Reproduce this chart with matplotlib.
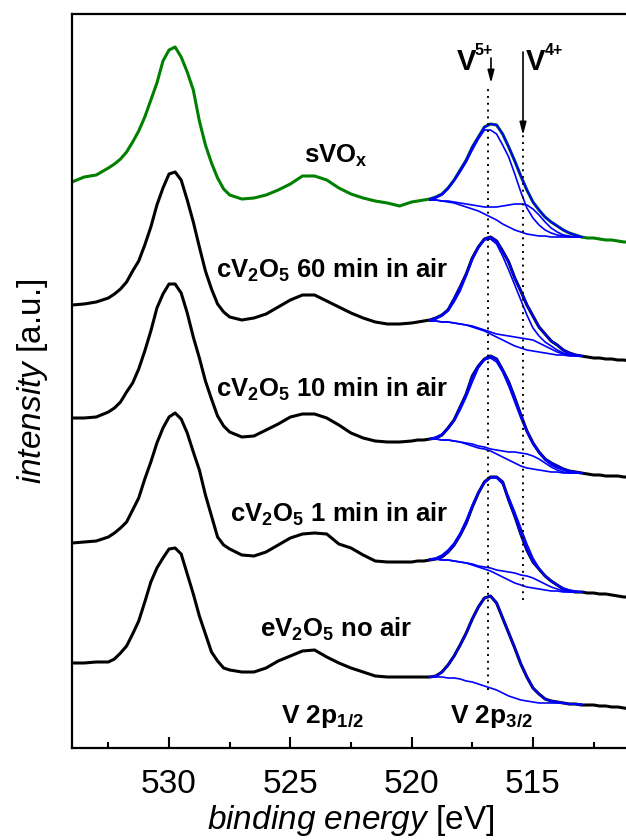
import numpy as np
import matplotlib
matplotlib.use("Agg")
import matplotlib.pyplot as plt
from matplotlib.ticker import MultipleLocator

plt.rcParams['font.family'] = 'Liberation Sans'
plt.rcParams['mathtext.fontset'] = 'custom'
plt.rcParams['mathtext.rm'] = 'Liberation Sans'
plt.rcParams['mathtext.it'] = 'Liberation Sans:italic'
plt.rcParams['mathtext.bf'] = 'Liberation Sans:bold'

# binding energy grid (eV): finer over O 1s and V 2p3/2, coarse elsewhere
energy = np.concatenate([np.linspace(534.0, 532.5, 4), np.linspace(532.25, 527.75, 19),
                         np.linspace(527.5, 520.5, 15), np.linspace(520.0, 511.0, 37)])
fit_energy = np.linspace(519.25, 513.0, 26)

# spectra, already stacked (a.u.)
svox = np.array([566, 571, 573, 580,
                 584, 589, 596, 606, 617, 631, 648, 665, 687, 698, 701, 691, 676, 658, 627, 603, 585, 570, 559,
                 553, 549, 550, 553, 558, 564, 572, 572, 568, 560, 554, 550, 547, 545, 542,
                 546, 547, 548, 549, 551, 554, 560, 568, 578, 588, 601, 611, 621, 624, 623, 614, 601, 587, 572, 558,
                 546, 538, 531, 526, 522, 518, 515, 513, 511, 510, 510, 509, 508, 508, 507, 506, 506])
c60 = np.array([443, 444, 446, 450,
                454, 459, 466, 477, 487, 503, 521, 543, 560, 574, 576, 568, 548, 526, 501, 477, 459, 444, 436,
                431, 428, 430, 434, 441, 448, 453, 453, 447, 441, 435, 430, 426, 424, 424,
                425, 426, 427, 428, 430, 433, 438, 449, 461, 474, 490, 501, 509, 511, 507, 497, 486, 470, 457, 443,
                432, 421, 414, 407, 403, 398, 395, 393, 392, 391, 390, 390, 389, 389, 388, 388, 387])
c10 = np.array([330, 330, 331, 336,
                340, 346, 356, 365, 379, 397, 417, 440, 454, 464, 464, 455, 435, 411, 390, 367, 349, 332, 322,
                316, 311, 312, 318, 324, 331, 334, 334, 330, 323, 315, 310, 307, 306, 306,
                307, 308, 308, 309, 310, 313, 320, 328, 341, 354, 372, 382, 389, 392, 389, 378, 366, 350, 333, 317,
                305, 296, 289, 285, 282, 279, 277, 276, 275, 274, 273, 273, 272, 272, 272, 271, 271])
c1 = np.array([205, 206, 207, 211,
               215, 220, 226, 238, 250, 269, 286, 305, 320, 331, 335, 329, 315, 296, 278, 253, 232, 211, 203,
               199, 193, 192, 196, 203, 210, 214, 215, 214, 204, 200, 193, 187, 186, 186,
               186, 187, 187, 188, 189, 191, 196, 203, 213, 225, 241, 255, 266, 271, 271, 266, 248, 232, 214, 198,
               186, 179, 172, 167, 163, 159, 157, 156, 156, 155, 155, 154, 154, 153, 152, 151, 151])
noair = np.array([85, 85, 86, 86,
                  89, 95, 102, 114, 127, 146, 166, 180, 190, 199, 200, 194, 174, 154, 132, 114, 96, 87, 80,
                  78, 76, 76, 80, 87, 92, 97, 98, 91, 85, 80, 76, 72, 71, 71,
                  71, 71, 71, 71, 72, 76, 83, 92, 103, 115, 129, 141, 150, 152, 145, 130, 115, 100, 84, 71,
                  60, 54, 49, 47, 46, 45, 44, 44, 43, 43, 43, 42, 42, 41, 41, 40, 39])

# V 2p3/2 fit components (background, V5+ + bg, V4+ + bg)
svox_bg = [548, 548, 547, 546, 545, 543, 541, 539, 537, 534, 531, 528, 524, 521, 518, 516, 514, 513, 512, 512,
           511, 511, 511, 511, 511, 511]
svox_v5 = [548, 550, 553, 559, 567, 576, 586, 598, 609, 618, 618, 614, 603, 591, 574, 556, 540, 530, 523, 518,
           515, 513, 512, 511, 511, 511]
svox_v4 = [548, 548, 547, 547, 546, 545, 544, 543, 542, 541, 541, 541, 542, 543, 544, 544, 543, 539, 533, 526,
           520, 516, 513, 512, 511, 511]
c60_bg = [427, 427, 426, 426, 425, 424, 423, 421, 419, 417, 414, 411, 408, 405, 402, 400, 398, 397, 396, 395,
          394, 393, 393, 392, 392, 392]
c60_v5 = [427, 429, 432, 437, 446, 457, 472, 488, 500, 508, 509, 504, 492, 478, 463, 448, 433, 420, 412, 406,
          402, 398, 395, 394, 393, 392]
c60_v4 = [427, 427, 426, 426, 425, 424, 423, 422, 420, 418, 416, 414, 413, 412, 411, 410, 409, 408, 405, 402,
          399, 396, 394, 393, 392, 392]
c10_bg = [309, 309, 308, 308, 307, 306, 304, 302, 300, 299, 297, 294, 291, 288, 285, 282, 280, 279, 278, 277,
          276, 276, 275, 275, 275, 275]
c10_v5 = [309, 311, 314, 319, 327, 338, 351, 366, 380, 388, 390, 386, 376, 362, 346, 330, 316, 304, 295, 288,
          283, 280, 278, 276, 275, 275]
c10_v4 = [309, 309, 308, 308, 307, 306, 305, 304, 302, 301, 299, 298, 297, 296, 296, 295, 294, 292, 289, 285,
          281, 278, 276, 275, 275, 275]
c1_bg = [189, 189, 188, 188, 187, 186, 185, 183, 181, 179, 177, 174, 171, 168, 165, 163, 161, 160, 159, 158,
         157, 157, 156, 156, 156, 156]
c1_v5 = [189, 190, 193, 198, 205, 215, 228, 243, 256, 265, 270, 270, 264, 251, 236, 220, 204, 190, 180, 172,
         167, 163, 160, 158, 157, 156]
c1_v4 = [189, 189, 188, 188, 187, 186, 185, 184, 182, 181, 180, 178, 177, 176, 175, 173, 172, 170, 167, 164,
         161, 159, 157, 156, 156, 156]
noair_bg = [71, 71, 71, 70, 70, 69, 67, 66, 64, 62, 60, 58, 55, 52, 50, 48, 47, 46, 45, 45,
            45, 45, 45, 44, 44, 44]

labels = ['sVO$_\\mathbf{x}$',
          'cV$_\\mathbf{2}$O$_\\mathbf{5}$ 60 min in air',
          'cV$_\\mathbf{2}$O$_\\mathbf{5}$ 10 min in air',
          'cV$_\\mathbf{2}$O$_\\mathbf{5}$ 1 min in air',
          'eV$_\\mathbf{2}$O$_\\mathbf{5}$ no air']

v5_pos = 516.85
v4_pos = 515.42

spectra = [svox, c60, c10, c1, noair]
colors = ['#008000', 'black', 'black', 'black', 'black']
fits = [(svox_bg, svox_v5, svox_v4), (c60_bg, c60_v5, c60_v4), (c10_bg, c10_v5, c10_v4),
        (c1_bg, c1_v5, c1_v4), (noair_bg,)]
label_xy = [(523.12, 585), (523.28, 470), (523.28, 351), (522.99, 226), (523.10, 111)]

fig = plt.figure(figsize=(6.26, 8.4), dpi=100)
ax = fig.add_axes([72 / 626, 92 / 840, 558 / 626, 734 / 840])

mask = (energy < 519.3) & (energy > 512.9)
blue = '#0000ff'
for y, c, comps in zip(spectra, colors, fits):
    ax.plot(energy, y, color=c, lw=2.2, zorder=2)
    for comp in comps:
        ax.plot(fit_energy, comp, color=blue, lw=1.2, zorder=3)
    # fit envelope
    ax.plot(energy[mask], y[mask], color=blue, lw=1.5, zorder=4)

for lab, (x, yy) in zip(labels, label_xy):
    ax.text(x, yy, lab, ha='center', va='baseline', fontsize=18.5, fontweight='bold')

ax.text(523.69, 25, 'V 2p$_\\mathbf{1/2}$', ha='center', va='baseline', fontsize=19, fontweight='bold')
ax.text(516.73, 25, 'V 2p$_\\mathbf{3/2}$', ha='center', va='baseline', fontsize=19, fontweight='bold')

# V5+ / V4+ markers
ax.vlines(v5_pos, 58, 661, colors='black', linestyles=(0, (1, 2.5)), lw=1.4, zorder=5)
ax.vlines(v4_pos, 148, 613, colors='black', linestyles=(0, (1, 2.5)), lw=1.4, zorder=5)
arrow = dict(arrowstyle='-|>,head_length=0.75,head_width=0.2', color='black', lw=1.2, shrinkA=0, shrinkB=0)
ax.annotate('', xy=(516.73, 665), xytext=(516.73, 690), arrowprops=arrow, annotation_clip=False)
ax.annotate('', xy=(515.41, 613), xytext=(515.41, 696), arrowprops=arrow, annotation_clip=False)
ax.text(517.35, 678, 'V', ha='right', va='baseline', fontsize=21, fontweight='bold')
ax.text(517.39, 693, '5+', ha='left', va='baseline', fontsize=11.5, fontweight='bold')
ax.text(515.28, 678, 'V', ha='left', va='baseline', fontsize=21, fontweight='bold')
ax.text(514.50, 693, '4+', ha='left', va='baseline', fontsize=11.5, fontweight='bold')

ax.set_xlim(534, 511)
ax.set_ylim(0, 734)
ax.set_yticks([])
ax.xaxis.set_major_locator(MultipleLocator(5))
ax.xaxis.set_minor_locator(MultipleLocator(2.5))
ax.tick_params(axis='x', which='major', direction='in', length=8, width=1.5, labelsize=24, pad=15)
ax.tick_params(axis='x', which='minor', direction='in', length=4, width=1.5)
for s in ax.spines.values():
    s.set_linewidth(1.6)

ax.set_xlabel('$\\mathit{binding\\ energy}$ [eV]', fontsize=24, labelpad=2)
ax.set_ylabel('$\\mathit{intensity}$ [a.u.]', fontsize=24, labelpad=16)

fig.savefig('out.png', dpi=100)
